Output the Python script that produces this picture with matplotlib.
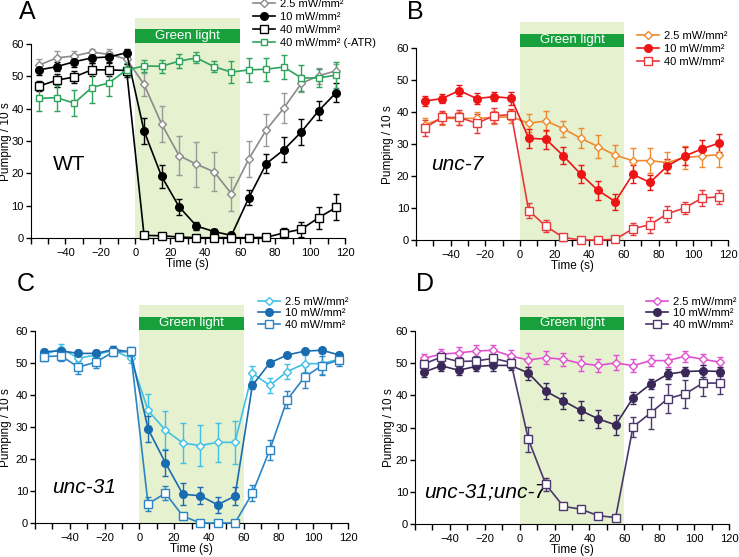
import matplotlib
matplotlib.use("Agg")
import matplotlib.pyplot as plt
from matplotlib.ticker import MultipleLocator

plt.rcParams['font.family'] = ['Liberation Sans', 'DejaVu Sans']

W, H = 739, 557

time = [-55, -45, -35, -25, -15, -5, 5, 15, 25, 35, 45, 55, 65, 75, 85, 95, 105, 115]
labels = ['2.5 mW/mm²', '10 mW/mm²', '40 mW/mm²', '40 mW/mm² (-ATR)']

# A: WT
wt_25 = [53.5, 55.7, 56.3, 57.5, 56.8, 55.3, 47.5, 35.3, 25.5, 22.8, 20.5, 13.7, 24.5, 33.5, 40.2, 47.8, 50.2, 51.7]
wt_25_err = [2, 2, 1.5, 1, 1.5, 1.5, 3.5, 5.5, 6, 7, 6, 5.2, 5.5, 5, 4.5, 2.5, 2.5, 2]
wt_10 = [52, 53, 54.5, 55.7, 56, 57.3, 33.1, 19.1, 9.7, 3.7, 2, 0.8, 12.5, 23, 27.3, 32.8, 39.4, 45]
wt_10_err = [1.5, 1.5, 1.5, 1.5, 1.5, 1.2, 4, 3.5, 2.5, 1.2, 0.7, 0.5, 2.3, 3, 3.8, 4, 3, 3]
wt_40 = [47, 48.8, 49.8, 52, 52, 51.8, 0.8, 0.7, 0.3, 0.1, 0.1, 0.1, 0.1, 0.2, 1.6, 2.7, 6.3, 9.5]
wt_40_err = [1.5, 2, 2, 2, 2, 2, 0.4, 0.4, 0.3, 0.2, 0.2, 0.2, 0.2, 0.3, 1.5, 2.3, 3.4, 4]
wt_atr = [43.2, 43.4, 41.7, 46.5, 48, 52, 53.2, 53.1, 54.7, 55.7, 53, 51.3, 52, 52.2, 52.9, 49.5, 49.5, 50.4]
wt_atr_err = [4, 4, 4, 4.7, 4, 2, 2, 2, 2.2, 1.7, 1.8, 3.3, 3.7, 3.5, 3.7, 4, 2.8, 4]

# B: unc-7
u7_25 = [36, 38, 38, 38, 38.3, 38.5, 36.5, 37.2, 34.8, 31.8, 29.2, 26.5, 24.8, 24.8, 24.2, 25.8, 26.2, 26.7]
u7_25_err = [2, 2, 2, 2, 2, 2, 2.8, 3, 2.5, 3.2, 3.5, 3.3, 4, 4, 3.3, 3.5, 3.5, 4]
u7_10 = [43.4, 44.2, 46.7, 44.2, 44.8, 44.3, 31.8, 31.5, 26.3, 20.6, 15.5, 12, 20.5, 18, 23.1, 26.2, 28.5, 30.3]
u7_10_err = [1.5, 1.5, 1.8, 1.8, 1.3, 2, 3, 3, 2.7, 2.8, 3, 2.5, 2.8, 2.3, 2.3, 2.8, 2.7, 2.8]
u7_40 = [35, 38.3, 38.3, 36.5, 38.8, 39.2, 9.2, 4.3, 0.8, 0, 0, 0.2, 3.5, 4.8, 8.2, 10, 13.1, 13.5]
u7_40_err = [2.5, 2, 2.3, 3, 2.3, 1.7, 2.3, 1.8, 1, 0.3, 0.3, 0.3, 1.8, 2.5, 2.5, 1.8, 2.5, 2.2]

# C: unc-31
u31_25 = [52.5, 54.5, 51.5, 52.5, 54, 51.5, 35.2, 29, 25, 24.2, 25.2, 25.2, 46.8, 43, 47.3, 49.8, 49.8, 51.2]
u31_25_err = [1.5, 1.3, 1.5, 1.5, 1.3, 1.5, 5, 6, 6.2, 6.5, 6.2, 6.7, 2.3, 2.4, 2.3, 2.7, 3.3, 1.5]
u31_10 = [53.5, 53.8, 53, 53, 54.2, 53.5, 29.4, 18.8, 9, 8.5, 5.7, 8.4, 43, 50, 52.5, 53.7, 54, 52.5]
u31_10_err = [1, 1, 1, 1, 1, 1, 4, 4, 3.5, 2.7, 2.5, 2.8, 1, 0.8, 0.7, 0.7, 0.8, 0.8]
u31_40 = [52, 52.2, 48.7, 50.3, 53.4, 53.6, 6, 9.3, 2.2, 0, 0, 0, 9.3, 22.8, 38.5, 45.6, 49.2, 51]
u31_40_err = [1.5, 1.5, 2, 1.8, 1.3, 1.3, 2.2, 2.2, 0.5, 0.3, 0.3, 0.3, 2.5, 3.2, 2.7, 3.5, 3, 2]

# D: unc-31;unc-7
dbl_25 = [51.5, 52.8, 53.2, 53.8, 54, 52.2, 51, 51.7, 51.2, 49.9, 49.3, 50.1, 49.2, 50.8, 50.8, 52.2, 51.2, 50.3]
dbl_25_err = [1.5, 1.5, 1.7, 2, 1.7, 2, 2.3, 2, 2, 2.2, 2, 2.3, 2, 1.8, 2, 1.7, 1.8, 1.5]
dbl_10 = [47.2, 49.2, 47.8, 49, 49.3, 49.3, 46.9, 41.3, 38.3, 35.3, 32.7, 30.8, 39.2, 43.5, 46.6, 47.4, 47.6, 47.4]
dbl_10_err = [1.5, 1.5, 1.5, 1.5, 1.8, 1.5, 2, 2.4, 2.5, 3, 2.7, 3, 1.8, 1.6, 1.5, 1.5, 1.8, 1.5]
dbl_40 = [49.7, 51.9, 50.5, 50.7, 51.5, 50.2, 26.3, 12.3, 5.5, 4.6, 2.6, 2, 30.2, 34.5, 39, 40.5, 43.8, 43.8]
dbl_40_err = [1.5, 1.5, 1.5, 1.5, 1.5, 1.5, 4, 2, 0.5, 0.5, 0.3, 0.3, 3.2, 5, 4.5, 4.3, 4, 3.5]


def px_rect(left, right, y0, y60, ytop=68):
    unit = (y0 - y60) / 60.0
    top = y0 - ytop * unit
    return [left / W, (H - y0) / H, (right - left) / W, (y0 - top) / H]


def draw(ax, series, leg_xy, legsp, letter, letter_xy, geno, geno_xy, geno_style, ylab_x):
    ax.set_xlim(-60, 120)
    ax.set_ylim(0, 68)
    ax.axvspan(0, 60, color='#e5f1cf', lw=0, zorder=0)
    ax.add_patch(plt.Rectangle((0, 60.3), 60, 4.2, color='#18a03c', lw=0, zorder=1))
    ax.text(30, 62.4, 'Green light', color='white', ha='center', va='center', fontsize=9.5, zorder=2)
    handles = []
    for lab, vals, errs, col, mk, mfc, ecol, ms in series:
        ax.errorbar(time, vals, yerr=errs, fmt='none', ecolor=ecol, elinewidth=1,
                    capsize=2.5, capthick=1, zorder=3, clip_on=False)
        ln, = ax.plot(time, vals, color=col, lw=1.2, marker=mk, mfc=mfc, mec=col,
                      ms=ms, mew=1, zorder=4, clip_on=False, label=lab)
        handles.append(ln)
    for s in ['top', 'right']:
        ax.spines[s].set_visible(False)
    ax.spines['left'].set_bounds(0, 60)
    ax.set_yticks([0, 10, 20, 30, 40, 50, 60])
    ax.set_xticks([-40, -20, 0, 20, 40, 60, 80, 100, 120])
    ax.xaxis.set_minor_locator(MultipleLocator(10))
    ax.tick_params(axis='both', which='both', direction='out', length=4, width=1, labelsize=8, pad=3)
    ax.tick_params(axis='y', length=3.5, pad=1.5)
    ax.set_xlabel('Time (s)', fontsize=8.5, labelpad=0)
    ax.set_ylabel('Pumping / 10 s', fontsize=8.5)
    ax.yaxis.set_label_coords(ylab_x, 0.44)
    ax.legend(handles=handles, loc='upper left', frameon=False, fontsize=8,
              bbox_to_anchor=(leg_xy[0] / W, 1 - leg_xy[1] / H),
              bbox_transform=fig.transFigure, borderpad=0, borderaxespad=0,
              handlelength=2.0, handletextpad=0.4, labelspacing=legsp)
    fig.text(letter_xy[0] / W, 1 - letter_xy[1] / H, letter, fontsize=18, ha='left', va='top')
    ax.text(geno_xy[0], geno_xy[1], geno, fontsize=15, style=geno_style, ha='left', va='baseline')


fig = plt.figure(figsize=(W / 100, H / 100), dpi=100)

axA = fig.add_axes(px_rect(30.5, 345, 238, 44))
draw(axA, [
    (labels[0], wt_25, wt_25_err, '#8a8a8a', 'D', 'white', '#9a9a9a', 4),
    (labels[1], wt_10, wt_10_err, 'black', 'o', 'black', 'black', 5.5),
    (labels[2], wt_40, wt_40_err, 'black', 's', 'white', 'black', 5.5),
    (labels[3], wt_atr, wt_atr_err, '#2ea35c', 's', 'white', '#2ea35c', 4),
], (253, -1), 0.28, 'A', (19, 0), 'WT', (-47, 21), 'normal', -0.06)

axB = fig.add_axes(px_rect(416, 728, 240, 48))
draw(axB, [
    (labels[0], u7_25, u7_25_err, '#ef8a2e', 'D', 'white', '#ef8a2e', 4),
    (labels[1], u7_10, u7_10_err, '#ec1414', 'o', '#ec1414', '#ec1414', 5.5),
    (labels[2], u7_40, u7_40_err, '#e8383c', 's', 'white', '#e8383c', 5.5),
], (637, 31), 0.28, 'B', (407, 0), 'unc-7', (-51, 22), 'italic', -0.07)

axC = fig.add_axes(px_rect(35, 348, 523, 331))
draw(axC, [
    (labels[0], u31_25, u31_25_err, '#40c0e4', 'D', 'white', '#40c0e4', 4),
    (labels[1], u31_10, u31_10_err, '#1a6cb0', 'o', '#1a6cb0', '#1a6cb0', 5.5),
    (labels[2], u31_40, u31_40_err, '#2a84c6', 's', 'white', '#2a84c6', 5.5),
], (258, 297), 0.12, 'C', (17, 272), 'unc-31', (-50, 9.4), 'italic', -0.075)

axD = fig.add_axes(px_rect(415, 729, 524, 331))
draw(axD, [
    (labels[0], dbl_25, dbl_25_err, '#e050d0', 'D', 'white', '#e050d0', 4),
    (labels[1], dbl_10, dbl_10_err, '#3a2858', 'o', '#3a2858', '#3a2858', 5.5),
    (labels[2], dbl_40, dbl_40_err, '#4a386c', 's', 'white', '#4a386c', 5.5),
], (646, 297), 0.12, 'D', (416, 272), 'unc-31;unc-7', (-55, 8.2), 'italic', -0.064)

fig.savefig('out.png', dpi=100)
